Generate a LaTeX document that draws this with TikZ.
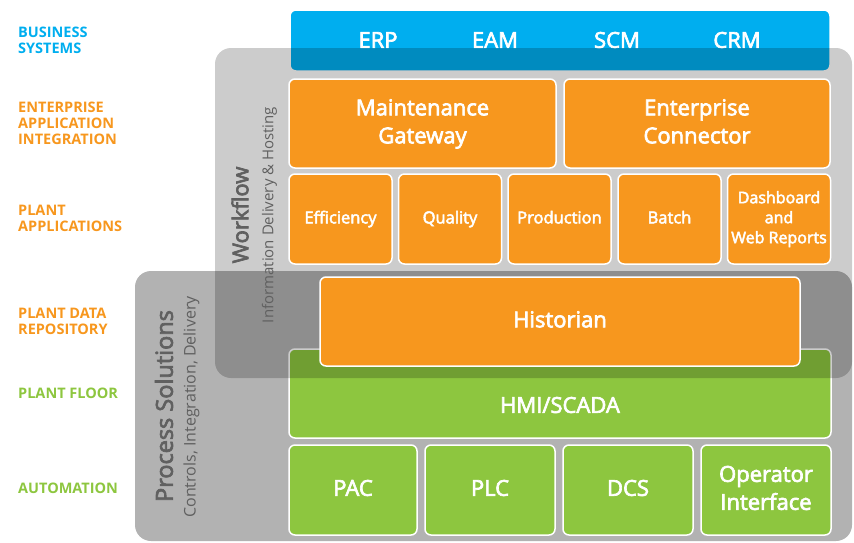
\documentclass[tikz,border=0pt]{standalone}
\usepackage{fontspec}
\setmainfont{Open Sans}
\newfontfamily\blockfont{Open Sans}[FakeBold=3]
\usetikzlibrary{positioning}

\definecolor{geblue}{RGB}{0,174,239}
\definecolor{georange}{RGB}{247,151,30}
\definecolor{gegreen}{RGB}{141,198,63}
\definecolor{panelgray}{RGB}{96,96,96}

% strut that centres the capitals of every line
\newcommand{\blkstrut}{\rule[-0.25em]{0pt}{1.03em}}

\begin{document}
\begin{tikzpicture}[
		x=1pt, y=-1pt,
		every node/.style={inner sep=0pt},
		% Coloured building block with white rim
		block/.style={draw=white, line width=1.5pt, rounded corners=6pt,
			fill=#1, text=white, align=center},
		% Text sizes inside the blocks
		bigtext/.style={font=\blockfont\fontsize{22}{28}\selectfont},
		midtext/.style={font=\blockfont\fontsize{16.5}{20}\selectfont},
		% Row sizes
		wide/.style={minimum height=89pt},
		cell/.style={minimum width=103pt, minimum height=90pt},
		foot/.style={minimum width=130pt, minimum height=90pt},
		% Translucent grey panels behind the blocks
		panel/.style={fill=black, fill opacity=#1, rounded corners=16pt},
		% Panel captions (rotated)
		caption/.style={rotate=90, text=panelgray},
		% Layer names on the left
		layer/.style={anchor=west, align=left, text=#1,
			font=\fontsize{14.5}{16}\selectfont\bfseries}
		]
		
		\useasboundingbox (0,0) rectangle (854,542);
		
		% === PROCESS SOLUTIONS PANEL ===
		\path[panel=0.3] (135,271) rectangle (852,541);
		
		% === BUSINESS SYSTEMS ===
		\node[block=geblue, minimum width=540pt, minimum height=61pt] (biz) at (560,40.5) {};
		\node[bigtext, text=white] (erp) at (378,40) {ERP};
		\node[bigtext, text=white] (eam) at (495,40) {EAM};
		\node[bigtext, text=white] (scm) at (617,40) {SCM};
		\node[bigtext, text=white] (crm) at (737,40) {CRM};
		
		% HMI/SCADA sits partly under the workflow panel
		\node[block=gegreen, wide, minimum width=542pt] (hmi) at (560,393.5) {};
		\node[bigtext, text=white] (hmitext) at (560,405) {HMI/SCADA};
		
		% === WORKFLOW PANEL ===
		\path[panel=0.2] (215,48) rectangle (852,378);
		
		% === ENTERPRISE APPLICATION INTEGRATION ===
		\node[block=georange, bigtext, wide, minimum width=267pt] (maint) at (422.5,123.5) {\blkstrut Maintenance\\\blkstrut Gateway};
		\node[block=georange, bigtext, wide, minimum width=266pt] (conn) at (697,123.5) {\blkstrut Enterprise\\\blkstrut Connector};
		
		% === PLANT APPLICATIONS ===
		\node[block=georange, midtext, cell] (effic) at (340.5,219) {\blkstrut Efficiency};
		\node[block=georange, midtext, cell] (quality) at (450,219) {\blkstrut Quality};
		\node[block=georange, midtext, cell] (prod) at (559.5,219) {\blkstrut Production};
		\node[block=georange, midtext, cell] (batch) at (669.5,219) {\blkstrut Batch};
		\node[block=georange, cell, font=\blockfont\fontsize{16}{20}\selectfont] (dash) at (779,219) {\blkstrut Dashboard\\\blkstrut and\\\blkstrut Web Reports};
		
		% === PLANT DATA REPOSITORY ===
		\node[block=georange, bigtext, wide, minimum width=480pt] (hist) at (560,321.5) {\blkstrut Historian};
		
		% === AUTOMATION ===
		\node[block=gegreen, bigtext, foot, minimum width=128pt] (pac) at (353,490) {\blkstrut PAC};
		\node[block=gegreen, bigtext, foot] (plc) at (490,490) {\blkstrut PLC};
		\node[block=gegreen, bigtext, foot] (dcs) at (628,490) {\blkstrut DCS};
		\node[block=gegreen, bigtext, foot] (oper) at (766,490) {\blkstrut Operator\\\blkstrut Interface};
		
		% === PANEL CAPTIONS ===
		\node[caption, font=\blockfont\fontsize{22}{26}\selectfont] (wflow) at (240,215) {Workflow};
		\node[caption, font=\fontsize{15}{18}\selectfont] (wflowsub) at (269.5,215) {Information Delivery \& Hosting};
		\node[caption, font=\blockfont\fontsize{23.5}{28}\selectfont] (procsol) at (164,406) {Process Solutions};
		\node[caption, font=\fontsize{16}{18}\selectfont] (procsub) at (191.5,407) {Controls, Integration, Delivery};
		
		% === LAYER NAMES ===
		\node[layer=geblue] (lbiz) at (18,40.5) {BUSINESS\\SYSTEMS};
		\node[layer=georange] (leai) at (18,123) {ENTERPRISE\\APPLICATION\\INTEGRATION};
		\node[layer=georange] (lapps) at (18,218.5) {PLANT\\APPLICATIONS};
		\node[layer=georange] (ldata) at (18,321) {PLANT DATA\\REPOSITORY};
		\node[layer=gegreen] (lfloor) at (18,393) {PLANT FLOOR};
		\node[layer=gegreen] (lauto) at (18,488) {AUTOMATION};
		
	\end{tikzpicture}
\end{document}
